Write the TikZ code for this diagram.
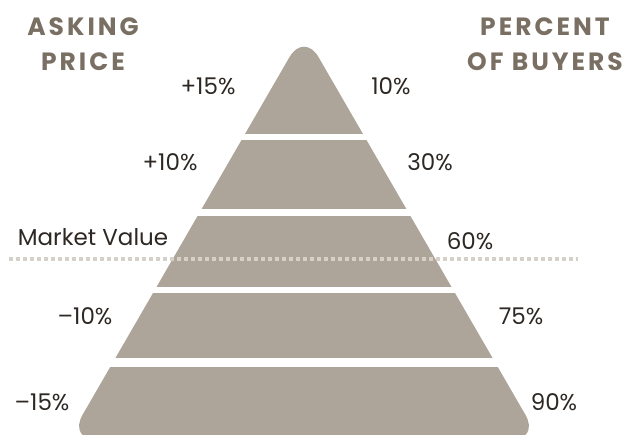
\documentclass[tikz,border=0pt]{standalone}
\usepackage{fontspec}
\setmainfont{Poppins}
\newfontfamily\headfont[LetterSpace=12]{Poppins}
\definecolor{bandgrey}{RGB}{173,165,154}
\definecolor{headbrown}{RGB}{122,111,99}
\definecolor{labeldark}{RGB}{45,40,36}
\definecolor{dotgrey}{RGB}{214,209,200}

\tikzset{
  heading/.style={font=\headfont\bfseries\fontsize{25}{35}\selectfont, text=headbrown, align=center, inner sep=0pt},
  pct/.style={font=\fontsize{23}{26}\selectfont, text=labeldark, inner sep=0pt},
  band/.style={fill=bandgrey},
  marketline/.style={draw=dotgrey, line width=3.5pt, dash pattern=on 4pt off 3pt}
}

\begin{document}
\begin{tikzpicture}[x=1pt,y=-1pt]
  \useasboundingbox (0,0) rectangle (634,435);
  \begin{scope}
    \clip[rounded corners=29pt] (304,32) -- (540,440) -- (68,440) -- cycle;
    \foreach \top/\bot in {20/134, 140.5/209, 216.5/287, 293.5/358, 366.5/460}
      \fill[band] (50,\top) rectangle (560,\bot);
  \end{scope}
  \coordinate(mvl) at (9,259);
  \coordinate(mvr) at (578,259);
  \draw[marketline] (mvl) -- (mvr);
  \node[heading](ask) at (83,44){ASKING\\PRICE};
  \node[heading](buy) at (545,44){PERCENT\\OF BUYERS};
  \node[pct](l1) at (208,86){+15\%};
  \node[pct](r1) at (391,86){10\%};
  \node[pct](l2) at (170,162){+10\%};
  \node[pct](r2) at (430,162){30\%};
  \node[pct](l3) at (93,237){Market Value};
  \node[pct](r3) at (470,241){60\%};
  \node[pct](l4) at (85,316){\textendash10\%};
  \node[pct](r4) at (521,316){75\%};
  \node[pct](l5) at (42,402){\textendash15\%};
  \node[pct](r5) at (554,402){90\%};
\end{tikzpicture}
\end{document}
